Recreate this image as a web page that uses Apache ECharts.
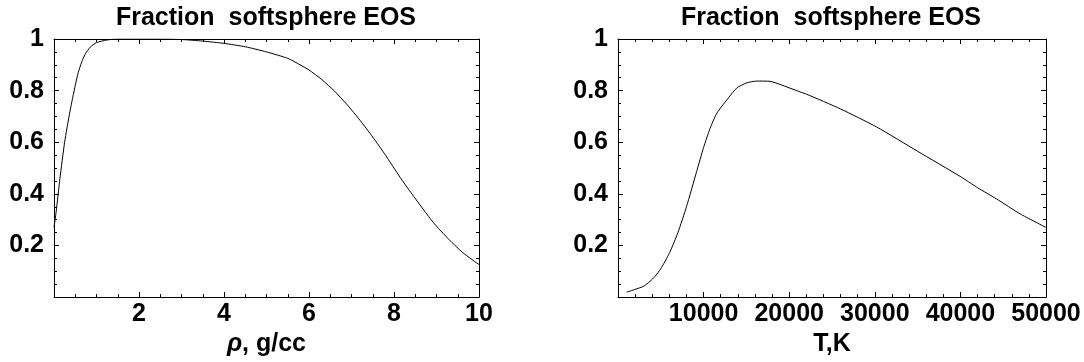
<!DOCTYPE html>
<html>
<head>
<meta charset="utf-8">
<script src="https://cdn.jsdelivr.net/npm/echarts@6/dist/echarts.min.js"></script>
<style>
html,body{margin:0;padding:0;background:#fff;}
#c{width:1084px;height:362px;}
</style>
</head>
<body>
<div id="c"></div>
<script>
// ---- data ----
const titleText = 'Fraction  softsphere EOS';
const rhoValues = [0, 0.05, 0.14, 0.25, 0.376, 0.5, 0.57, 0.65, 0.73, 0.85, 1.0, 1.24, 1.5, 2, 2.5, 3, 3.5, 4, 4.5, 5.0, 5.5, 5.79, 6.0, 6.3, 6.6, 6.9, 7.2, 7.5, 7.8, 8.14, 8.42, 8.92, 9.3, 9.62, 10];
const rhoFraction = [0.27, 0.33, 0.46, 0.60, 0.72, 0.82, 0.87, 0.91, 0.94, 0.968, 0.986, 0.996, 1.0, 1.0, 1.0, 0.998, 0.992, 0.983, 0.97, 0.95, 0.925, 0.90, 0.88, 0.843, 0.798, 0.745, 0.685, 0.62, 0.55, 0.465, 0.40, 0.29, 0.222, 0.172, 0.126];
const tValues = [1000, 2000, 3000, 3740, 4320, 5000, 6000, 7000, 8000, 9190, 10000, 10750, 11500, 12500, 13870, 15030, 16200, 17760, 18930, 21260, 22040, 26000, 30220, 35000, 39950, 42000, 44240, 47000, 50000];
const tFraction = [0.019, 0.03, 0.042, 0.061, 0.08, 0.11, 0.17, 0.25, 0.35, 0.487, 0.58, 0.653, 0.71, 0.755, 0.81, 0.83, 0.837, 0.836, 0.824, 0.795, 0.786, 0.729, 0.659, 0.565, 0.468, 0.424, 0.38, 0.322, 0.27];
const yTicks = {min: 0, max: 1, interval: 0.2};
const rhoTicks = {min: 0, max: 10, interval: 2};
const tTicks = {min: 0, max: 50000, interval: 10000};

const FONT = '"Liberation Sans", Arial, Helvetica, sans-serif';
const FS = 25;
const black = '#000';

function pairs(xs, ys){ return xs.map((x,i)=>[x, ys[i]]); }

function xAx(grid, t, pos, showLabel, name, minorSplit){
  return {
    type: 'value', gridIndex: grid, position: pos,
    min: t.min, max: t.max, interval: t.interval,
    axisLine: {show: true, onZero: false, lineStyle: {color: black, width: 1}},
    axisTick: {show: true, inside: true, length: 5, lineStyle: {color: black}},
    minorTick: {show: true, splitNumber: minorSplit, length: 3, lineStyle: {color: black}},
    splitLine: {show: false},
    axisLabel: {show: showLabel, margin: 5, color: black, fontFamily: FONT, fontSize: FS, fontWeight: 'bold',
      formatter: v => v === 0 ? '' : String(v)},
    name: name || '', nameLocation: 'middle', nameGap: 28,
    nameTextStyle: {color: black, fontFamily: FONT, fontSize: FS, fontWeight: 'bold',
      rich: {i: {fontStyle: 'italic', fontFamily: FONT, fontSize: FS, fontWeight: 'bold', color: black}}}
  };
}
function yAx(grid, pos, showLabel){
  return {
    type: 'value', gridIndex: grid, position: pos,
    min: yTicks.min, max: yTicks.max, interval: yTicks.interval,
    axisLine: {show: true, onZero: false, lineStyle: {color: black, width: 1}},
    axisTick: {show: true, inside: true, length: 5, lineStyle: {color: black}},
    minorTick: {show: true, splitNumber: 4, length: 3, lineStyle: {color: black}},
    splitLine: {show: false},
    axisLabel: {show: showLabel, margin: 10, color: black, fontFamily: FONT, fontSize: FS, fontWeight: 'bold',
      formatter: v => v === 0 ? '' : String(+v.toFixed(2))}
  };
}

const chart = echarts.init(document.getElementById('c'), null, {renderer: 'canvas'});
chart.setOption({
  animation: false,
  backgroundColor: '#fff',
  grid: [
    {left: 54, top: 39, width: 425, height: 262},
    {left: 618, top: 39, width: 428, height: 262}
  ],
  xAxis: [
    xAx(0, rhoTicks, 'bottom', true, '{i|ρ}, g/cc', 4),
    xAx(0, rhoTicks, 'top', false, '', 4),
    xAx(1, tTicks, 'bottom', true, 'T,K', 5),
    xAx(1, tTicks, 'top', false, '', 5)
  ],
  yAxis: [
    yAx(0, 'left', true),
    yAx(0, 'right', false),
    yAx(1, 'left', true),
    yAx(1, 'right', false)
  ],
  graphic: [
    {type: 'text', x: 266, y: 6, style: {text: titleText, fill: black, font: 'bold ' + FS + 'px ' + FONT, textAlign: 'center', textVerticalAlign: 'top'}},
    {type: 'text', x: 831, y: 6, style: {text: titleText, fill: black, font: 'bold ' + FS + 'px ' + FONT, textAlign: 'center', textVerticalAlign: 'top'}}
  ],
  series: [
    {type: 'line', xAxisIndex: 0, yAxisIndex: 0, data: pairs(rhoValues, rhoFraction), showSymbol: false, smooth: 0.2,
      lineStyle: {color: black, width: 1}},
    {type: 'line', xAxisIndex: 2, yAxisIndex: 2, data: pairs(tValues, tFraction), showSymbol: false, smooth: 0.2,
      lineStyle: {color: black, width: 1}}
  ]
});
</script>
</body>
</html>
